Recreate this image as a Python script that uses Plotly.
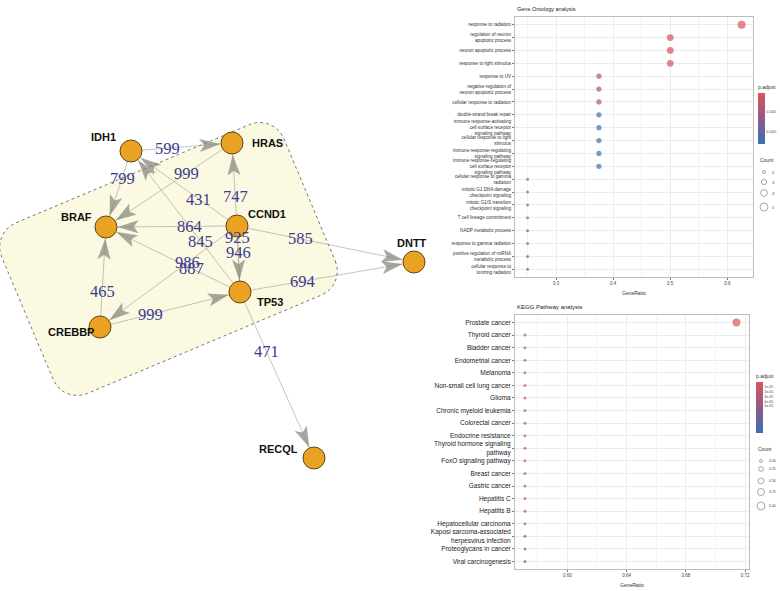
import math
import plotly.graph_objects as go

W, H = 780, 591

# ---------------- Network data ----------------
genes = ["IDH1", "HRAS", "BRAF", "CCND1", "DNTT", "TP53", "CREBBP", "RECQL"]
node_x = [131, 232, 106, 237, 414, 240, 100, 314]   # layout coordinates (px)
node_y = [151, 143, 227, 226, 262, 292, 327, 458]
edge_source = ["IDH1", "IDH1", "HRAS", "CCND1", "CCND1", "CCND1", "CCND1", "TP53",
               "CREBBP", "CREBBP", "TP53", "TP53", "CCND1", "CCND1", "CCND1", "TP53"]
edge_target = ["HRAS", "BRAF", "BRAF", "IDH1", "HRAS", "BRAF", "DNTT", "DNTT",
               "BRAF", "TP53", "IDH1", "BRAF", "CREBBP", "TP53", "TP53", "RECQL"]
edge_weight = [599, 799, 999, 431, 747, 864, 585, 694, 465, 999, 845, 887, 986, 946, 925, 471]

# ---------------- GO data ----------------
go_terms = [
    "response to radiation",
    "regulation of neuron<br>apoptotic process",
    "neuron apoptotic process",
    "response to light stimulus",
    "response to UV",
    "negative regulation of<br>neuron apoptotic process",
    "cellular response to radiation",
    "double-strand break repair",
    "immune response-activating<br>cell surface receptor<br>signaling pathway",
    "cellular response to light<br>stimulus",
    "immune response-regulating<br>signaling pathway",
    "immune response-regulating<br>cell surface receptor<br>signaling pathway",
    "cellular response to gamma<br>radiation",
    "mitotic G1 DNA damage<br>checkpoint signaling",
    "mitotic G1/S transition<br>checkpoint signaling",
    "T cell lineage commitment",
    "NADP metabolic process",
    "response to gamma radiation",
    "positive regulation of miRNA<br>metabolic process",
    "cellular response to<br>ionizing radiation",
]
go_ratio = [5/8, 4/8, 4/8, 4/8, 3/8, 3/8, 3/8, 3/8, 3/8, 3/8, 3/8, 3/8,
            2/8, 2/8, 2/8, 2/8, 2/8, 2/8, 2/8, 2/8]
go_count = [5, 4, 4, 4, 3, 3, 3, 3, 3, 3, 3, 3, 2, 2, 2, 2, 2, 2, 2, 2]
go_padj = [0.0006, 0.0010, 0.0010, 0.0010, 0.0042, 0.0045, 0.0045, 0.0125, 0.0125, 0.0125,
           0.0125, 0.0125, 0.0055, 0.0055, 0.0056, 0.0060, 0.0078, 0.0100, 0.0115, 0.0120]
go_xticks = [0.3, 0.4, 0.5, 0.6]
go_cbar_ticks = [0.005, 0.010]
go_count_legend = [2, 3, 4, 5]

# ---------------- KEGG data ----------------
kegg_terms = [
    "Prostate cancer", "Thyroid cancer", "Bladder cancer", "Endometrial cancer", "Melanoma",
    "Non-small cell lung cancer", "Glioma", "Chronic myeloid leukemia", "Colorectal cancer",
    "Endocrine resistance", "Thyroid hormone signaling<br>pathway", "FoxO signaling pathway",
    "Breast cancer", "Gastric cancer", "Hepatitis C", "Hepatitis B", "Hepatocellular carcinoma",
    "Kaposi sarcoma-associated<br>herpesvirus infection", "Proteoglycans in cancer",
    "Viral carcinogenesis",
]
kegg_ratio = [5/7] + [4/7] * 19
kegg_count = [5] + [4] * 19
kegg_padj = [2e-7, 2.3e-5, 2.3e-5, 2.3e-5, 2.4e-5, 2.4e-5, 2.4e-5, 2.5e-5, 2.5e-5, 2.6e-5,
             2.9e-5, 3.0e-5, 3.1e-5, 3.2e-5, 3.5e-5, 3.5e-5, 3.8e-5, 9.4e-5, 9.8e-5, 1.0e-4]
kegg_xticks = [0.60, 0.64, 0.68, 0.72]
kegg_cbar_ticks = [1e-5, 2e-5, 3e-5, 4e-5, 5e-5]
kegg_count_legend = [4.00, 4.25, 4.50, 4.75, 5.00]

# ---------------- styling / layout constants ----------------
NODE_R = 11
ARROW_L, ARROW_W = 21, 6.5
label_frac = [0.36] * len(edge_weight)
label_frac[13] = 0.40
label_frac[14] = 0.17
node_label_dx = [-13, 18, -12, 9, -2, 15, -4, -14]
node_label_dy = [-14, 0, -10, -12, -19, 10, 5, -9]
node_label_anchor = ["right", "left", "right", "left", "center", "left", "right", "right"]
BOX = dict(cx=168.5, cy=259, w=306, h=185, r=26, ang=-22.8)
COLORSCALE = [[0, "#3a71b2"], [0.5, "#8f5a86"], [1, "#dc555b"]]
LBL_FONT = "Liberation Sans, Arial"

pos = {g: (x, y) for g, x, y in zip(genes, node_x, node_y)}
fig = go.Figure()


def rounded_rect(cx, cy, w, h, r, ang, n=14):
    a = math.radians(ang)
    e1 = (math.cos(a), math.sin(a))
    e2 = (-math.sin(a), math.cos(a))
    pts = []
    corners = [(w/2 - r, h/2 - r, 0), (-w/2 + r, h/2 - r, 90),
               (-w/2 + r, -h/2 + r, 180), (w/2 - r, -h/2 + r, 270)]
    for ux, uy, st in corners:
        for k in range(n + 1):
            t = math.radians(st + 90 * k / n)
            u = ux + r * math.cos(t)
            v = uy + r * math.sin(t)
            pts.append((cx + u * e1[0] + v * e2[0], cy + u * e1[1] + v * e2[1]))
    pts.append(pts[0])
    return pts


bx = rounded_rect(BOX["cx"], BOX["cy"], BOX["w"], BOX["h"], BOX["r"], BOX["ang"])
fig.add_trace(go.Scatter(x=[p[0] for p in bx], y=[p[1] for p in bx], mode="lines",
                         fill="toself", fillcolor="#fbf9e2",
                         line=dict(color="#555555", width=0.8, dash="dot"),
                         hoverinfo="skip", showlegend=False))

# edges
ex, ey = [], []
for s, t in zip(edge_source, edge_target):
    ex += [pos[s][0], pos[t][0], None]
    ey += [pos[s][1], pos[t][1], None]
fig.add_trace(go.Scatter(x=ex, y=ey, mode="lines",
                         line=dict(color="rgba(150,150,140,0.55)", width=1),
                         hoverinfo="skip", showlegend=False))

# arrowheads
ax_, ay_ = [], []
for s, t in zip(edge_source, edge_target):
    x0, y0 = pos[s]
    x1, y1 = pos[t]
    L = math.hypot(x1 - x0, y1 - y0)
    ux, uy = (x1 - x0) / L, (y1 - y0) / L
    nx, ny = -uy, ux
    tx, ty = x1 - ux * (NODE_R + 0.5), y1 - uy * (NODE_R + 0.5)
    bx0, by0 = tx - ux * ARROW_L, ty - uy * ARROW_L
    kx, ky = tx - ux * ARROW_L * 0.78, ty - uy * ARROW_L * 0.78
    ax_ += [tx, bx0 + nx * ARROW_W, kx, bx0 - nx * ARROW_W, tx, None]
    ay_ += [ty, by0 + ny * ARROW_W, ky, by0 - ny * ARROW_W, ty, None]
fig.add_trace(go.Scatter(x=ax_, y=ay_, mode="lines", fill="toself",
                         fillcolor="rgba(135,135,125,0.72)", line=dict(width=0),
                         hoverinfo="skip", showlegend=False))

# nodes
fig.add_trace(go.Scatter(x=node_x, y=node_y, mode="markers",
                         marker=dict(size=2 * NODE_R, color="#e9a222",
                                     line=dict(color="#5c4621", width=1)),
                         hoverinfo="skip", showlegend=False))

annotations = []
for g, dx, dy, anc in zip(genes, node_label_dx, node_label_dy, node_label_anchor):
    annotations.append(dict(x=pos[g][0] + dx, y=pos[g][1] + dy, xref="x", yref="y",
                            text="<b>%s</b>" % g, showarrow=False, xanchor=anc, yanchor="middle",
                            font=dict(family="Liberation Sans, Arial", size=11, color="#111111")))
for s, t, w, f in zip(edge_source, edge_target, edge_weight, label_frac):
    x0, y0 = pos[s]
    x1, y1 = pos[t]
    annotations.append(dict(x=x0 + f * (x1 - x0), y=y0 + f * (y1 - y0), xref="x", yref="y",
                            text=str(w), showarrow=False, xanchor="center", yanchor="middle",
                            font=dict(family="Liberation Serif, Times New Roman, serif",
                                      size=16.5, color="#3c3c8e")))


def dot_size(c, cmin, cmax):
    return math.sqrt(9 + 55 * (c - cmin) / (cmax - cmin))


# ---------------- GO dot plot ----------------
go_sizes = [dot_size(c, min(go_count), max(go_count)) for c in go_count]
fig.add_trace(go.Scatter(
    x=go_ratio, y=go_terms, xaxis="x2", yaxis="y2", mode="markers", showlegend=False,
    marker=dict(size=go_sizes, color=[-p for p in go_padj], colorscale=COLORSCALE,
                cmin=-0.0132, cmax=-0.0003, line=dict(width=0),
                colorbar=dict(x=758 / W, xanchor="left", y=1 - 82 / H, yanchor="top",
                              len=62, lenmode="pixels", thickness=7, outlinewidth=0,
                              xpad=0, ypad=0, ticks="",
                              tickvals=[-v for v in go_cbar_ticks],
                              ticktext=["%.3f" % v for v in go_cbar_ticks],
                              tickfont=dict(size=4, color="#444", family=LBL_FONT),
                              title=dict(text="p.adjust", side="top",
                                         font=dict(size=5, color="#333", family=LBL_FONT))))))

# ---------------- KEGG dot plot ----------------
kegg_sizes = [dot_size(c, min(kegg_count), max(kegg_count)) for c in kegg_count]
fig.add_trace(go.Scatter(
    x=kegg_ratio, y=kegg_terms, xaxis="x3", yaxis="y3", mode="markers", showlegend=False,
    marker=dict(size=kegg_sizes, color=[-p for p in kegg_padj], colorscale=COLORSCALE,
                cmin=-1.05e-4, cmax=-1e-7, line=dict(width=0),
                colorbar=dict(x=756 / W, xanchor="left", y=1 - 371 / H, yanchor="top",
                              len=62, lenmode="pixels", thickness=7, outlinewidth=0,
                              xpad=0, ypad=0, ticks="",
                              tickvals=[-v for v in kegg_cbar_ticks],
                              ticktext=["%de-05" % round(v * 1e5) for v in kegg_cbar_ticks],
                              tickfont=dict(size=3.5, color="#444", family=LBL_FONT),
                              title=dict(text="p.adjust", side="top",
                                         font=dict(size=5, color="#333", family=LBL_FONT))))))

# Count legends (drawn on the pixel canvas)
go_leg_y = [172, 182, 193, 207]
fig.add_trace(go.Scatter(
    x=[764] * len(go_count_legend), y=go_leg_y, mode="markers", hoverinfo="skip", showlegend=False,
    marker=dict(symbol="circle-open", color="#333",
                size=[dot_size(c, min(go_count), max(go_count)) for c in go_count_legend],
                line=dict(width=0.6))))
for c, yy in zip(go_count_legend, go_leg_y):
    annotations.append(dict(x=770, y=yy, xref="x", yref="y", text=str(c), showarrow=False,
                            xanchor="left", font=dict(size=4, color="#444", family=LBL_FONT)))
annotations.append(dict(x=758, y=160, xref="x", yref="y", text="Count", showarrow=False,
                        xanchor="left", font=dict(size=5, color="#333", family=LBL_FONT)))

kegg_leg_y = [461, 469, 481, 492, 506]
fig.add_trace(go.Scatter(
    x=[761] * len(kegg_count_legend), y=kegg_leg_y, mode="markers", hoverinfo="skip",
    showlegend=False,
    marker=dict(symbol="circle-open", color="#333",
                size=[dot_size(c, min(kegg_count), max(kegg_count)) for c in kegg_count_legend],
                line=dict(width=0.6))))
for c, yy in zip(kegg_count_legend, kegg_leg_y):
    annotations.append(dict(x=767, y=yy, xref="x", yref="y", text="%.2f" % c, showarrow=False,
                            xanchor="left", font=dict(size=3.5, color="#444", family=LBL_FONT)))
annotations.append(dict(x=756, y=449, xref="x", yref="y", text="Count", showarrow=False,
                        xanchor="left", font=dict(size=5, color="#333", family=LBL_FONT)))

# titles
annotations += [
    dict(x=515, y=9, xref="x", yref="y", text="Gene Ontology analysis", showarrow=False,
         xanchor="left", font=dict(size=5.5, color="#222", family=LBL_FONT)),
    dict(x=634, y=293, xref="x", yref="y", text="GeneRatio", showarrow=False,
         xanchor="center", font=dict(size=5, color="#333", family=LBL_FONT)),
    dict(x=515, y=307, xref="x", yref="y", text="KEGG Pathway analysis", showarrow=False,
         xanchor="left", font=dict(size=6, color="#222", family=LBL_FONT)),
    dict(x=632, y=585, xref="x", yref="y", text="GeneRatio", showarrow=False,
         xanchor="center", font=dict(size=5, color="#333", family=LBL_FONT)),
]

axis_common = dict(showline=True, mirror=True, linecolor="#bdbdbd", linewidth=1,
                   gridcolor="#ececec", gridwidth=0.6, zeroline=False, ticks="outside",
                   ticklen=2, tickcolor="#777", automargin=False, fixedrange=True)

fig.update_layout(
    width=W, height=H, margin=dict(l=0, r=0, t=0, b=0),
    paper_bgcolor="white", plot_bgcolor="rgba(0,0,0,0)",
    annotations=annotations,
    xaxis=dict(domain=[0, 1], range=[0, W], visible=False, fixedrange=True),
    yaxis=dict(domain=[0, 1], range=[H, 0], visible=False, fixedrange=True),
    xaxis2=dict(axis_common, domain=[515 / W, 753 / W], anchor="y2", range=[0.228, 0.645],
                tickvals=go_xticks, ticktext=[str(v) for v in go_xticks],
                tickfont=dict(size=4.5, color="#444", family=LBL_FONT),
                minor=dict(dtick=0.05, tick0=0.25, showgrid=True, gridcolor="#f3f3f3",
                           gridwidth=0.5, ticks="")),
    yaxis2=dict(axis_common, domain=[1 - 277 / H, 1 - 17 / H], anchor="x2", type="category",
                categoryorder="array", categoryarray=go_terms,
                range=[len(go_terms) - 1 + 0.6, -0.6],
                tickfont=dict(size=4.6, color="#333", family=LBL_FONT)),
    xaxis3=dict(axis_common, domain=[515 / W, 749 / W], anchor="y3", range=[0.5647, 0.7227],
                tickvals=kegg_xticks, ticktext=["%.2f" % v for v in kegg_xticks],
                tickfont=dict(size=4.5, color="#444", family=LBL_FONT),
                minor=dict(dtick=0.02, tick0=0.58, showgrid=True, gridcolor="#f3f3f3",
                           gridwidth=0.5, ticks="")),
    yaxis3=dict(axis_common, domain=[1 - 569 / H, 1 - 315 / H], anchor="x3", type="category",
                categoryorder="array", categoryarray=kegg_terms,
                range=[len(kegg_terms) - 1 + 0.6, -0.6],
                tickfont=dict(size=6.5, color="#222", family=LBL_FONT)),
)

fig.write_html("out.html", config={"displayModeBar": False},
               post_script="document.body.style.margin='0px';document.body.style.padding='0px';")
